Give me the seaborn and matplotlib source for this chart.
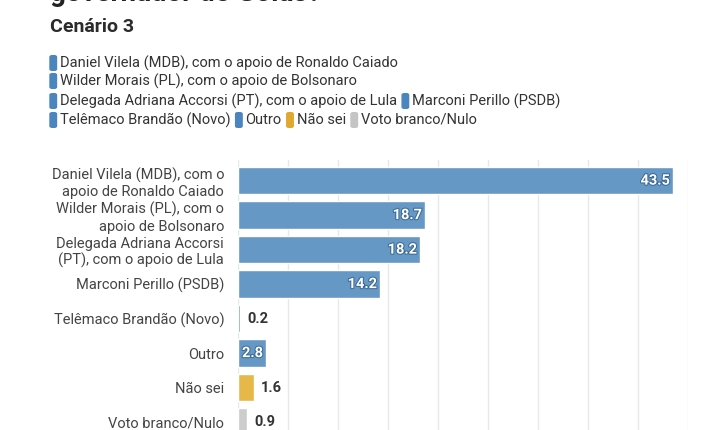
import pandas as pd
import matplotlib.pyplot as plt
import seaborn as sns
from matplotlib.patches import FancyBboxPatch
import matplotlib.patheffects as pe

# Chart data
candidates = ['Daniel Vilela (MDB), com o\napoio de Ronaldo Caiado',
              'Wilder Morais (PL), com o\napoio de Bolsonaro',
              'Delegada Adriana Accorsi\n(PT), com o apoio de Lula',
              'Marconi Perillo (PSDB)',
              'Telêmaco Brandão (Novo)',
              'Outro',
              'Não sei',
              'Voto branco/Nulo']
legend_names = ['Daniel Vilela (MDB), com o apoio de Ronaldo Caiado',
                'Wilder Morais (PL), com o apoio de Bolsonaro',
                'Delegada Adriana Accorsi (PT), com o apoio de Lula',
                'Marconi Perillo (PSDB)',
                'Telêmaco Brandão (Novo)',
                'Outro',
                'Não sei',
                'Voto branco/Nulo']
values = [43.5, 18.7, 18.2, 14.2, 0.2, 2.8, 1.6, 0.9]

BLUE = '#6698c5'
colors = [BLUE] * 6 + ['#e6b84a', '#cccccc']
legend_colors = ['#4a86bd'] * 6 + ['#e0a82e', '#c4c4c4']

data = pd.DataFrame({'Candidato': candidates, 'Valor': values})

sns.set_style('white')
plt.rcParams['font.family'] = ['Roboto', 'DejaVu Sans']

fig = plt.figure(figsize=(7.2, 4.3), dpi=100)
ax = fig.add_axes([0.3306, 0.0, 0.625, 0.628])
sns.barplot(data=data, x='Valor', y='Candidato', hue='Candidato', palette=colors,
            legend=False, width=0.8, saturation=1, ax=ax)

# Bar labels
for i, v in enumerate(values):
    if v > 2:
        ax.text(v - 0.3, i, f'{v}', ha='right', va='center', color='white',
                fontsize=10.5, fontweight='bold',
                path_effects=[pe.withStroke(linewidth=1.5, foreground='#3d6a94')])
    else:
        ax.text(v + 0.7, i, f'{v}', ha='left', va='center', color='#333333',
                fontsize=10.5, fontweight='bold')

ax.set_xlim(0, 45)
ax.set_ylim(7.23, -0.6)
ax.set_xticks(range(0, 46, 5))
ax.grid(axis='x', color='#e8e8e8', linewidth=1)
ax.set_axisbelow(True)
ax.tick_params(axis='x', labelbottom=False, length=0)
ax.tick_params(axis='y', length=0, labelsize=10.5, colors='#444444', pad=10)
ax.set_xlabel('')
ax.set_ylabel('')
sns.despine(ax=ax, left=True, bottom=True)

# Titles (the top one is cut off)
fig.text(0.069, 1.015, 'governador de Goiás?', fontsize=20, fontweight='bold', color='#222222', va='center')
fig.text(0.069, 0.938, 'Cenário 3', fontsize=14, fontweight='bold', color='#2b2b2b', va='center')

# Manual legend, items follow each other on a row
renderer = fig.canvas.get_renderer()
rows = [(63, [0]), (81, [1]), (101, [2, 3]), (120, [4, 5, 6, 7])]
for ypx, items in rows:
    xpx = 50
    y0 = 1 - ypx / 430
    for idx in items:
        fig.patches.append(FancyBboxPatch((xpx / 720, y0 - 0.017), 0.009, 0.034,
                                          boxstyle='round,pad=0,rounding_size=0.003',
                                          transform=fig.transFigure, color=legend_colors[idx]))
        t = fig.text((xpx + 10) / 720, y0, legend_names[idx], fontsize=10.5, color='#333333', va='center')
        xpx = t.get_window_extent(renderer).x1 + 5

plt.savefig('out.png')
plt.close()
